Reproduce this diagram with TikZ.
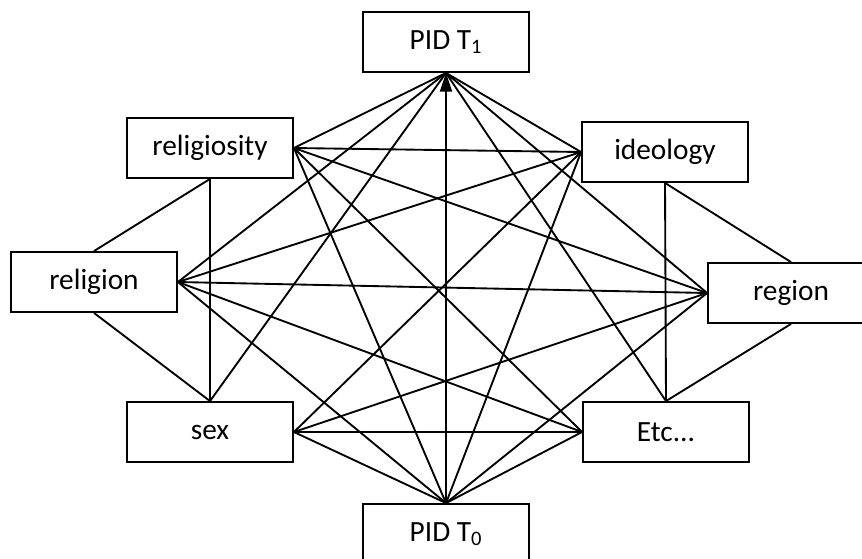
\documentclass[tikz,border=0pt]{standalone}
\usepackage{fontspec}
\setmainfont{Carlito}
\usetikzlibrary{arrows.meta}

\begin{document}
\begin{tikzpicture}[x=0.75pt, y=-0.75pt, line width=1.4pt,
    every node/.style={font=\fontsize{22}{26}\selectfont},
    varbox/.style={draw, minimum width=124.5pt, minimum height=45pt, inner sep=0pt}]
    \useasboundingbox (0,0) rectangle (862,558);
    \clip (0,0) rectangle (862,558);

    % Variables
    \node[varbox] (t1) at (446,42) {PID T\textsubscript{1}};
    \node[varbox] (t0) at (446,534) {PID T\textsubscript{0}};
    \node[varbox] (relgsty) at (210,148) {religiosity};
    \node[varbox] (relgn) at (94,282) {religion};
    \node[varbox] (sex) at (210,432) {sex};
    \node[varbox] (ideo) at (665,152) {ideology};
    \node[varbox] (region) at (791,293) {region};
    \node[varbox] (etcv) at (666,432) {Etc...};

    % Left side against right side
    \foreach \l in {relgsty, relgn, sex}
      \foreach \r in {ideo, region, etcv} \draw (\l.east) -- (\r.west);

    % Into PID T1
    \foreach \n in {relgsty.east, relgn.east, sex.north, ideo.west, region.west, etcv.north}
      \draw (t1.south) -- (\n);

    % Out of PID T0
    \foreach \n in {relgsty.east, relgn.east, sex.east, ideo.west, region.west, etcv.west}
      \draw (t0.north) -- (\n);
    \draw[-{Triangle[length=14pt, width=9pt]}] (t0.north) -- (t1.south);

    % Links within each side
    \draw (relgsty.south) -- (relgn.north);
    \draw (relgsty.south) -- (sex.north);
    \draw (relgn.south) -- (sex.north);
    \draw (ideo.south) -- (region.north);
    \draw (ideo.south) -- (etcv.north);
    \draw (region.south) -- (etcv.north);
\end{tikzpicture}
\end{document}
